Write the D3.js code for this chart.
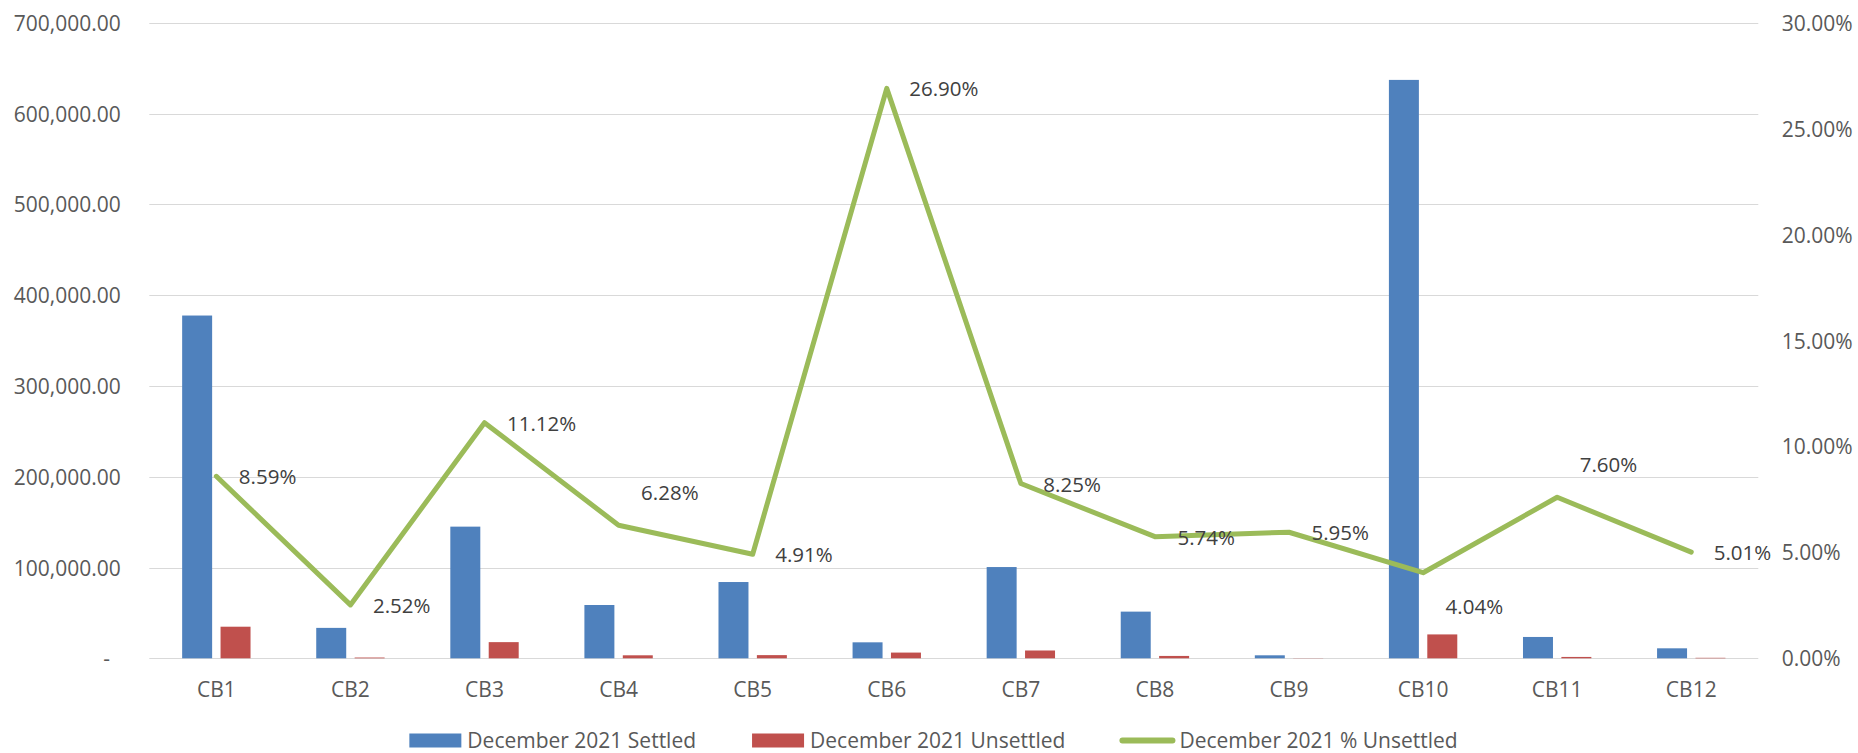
<!DOCTYPE html>
<html>
<head>
<meta charset="utf-8">
<script src="https://cdn.jsdelivr.net/npm/d3@7"></script>
<style>
  html, body { margin: 0; padding: 0; background: #ffffff; }
  svg { display: block; font-family: "Open Sans", "Noto Sans", sans-serif; }
</style>
</head>
<body>
<svg id="chart" width="1858" height="753"></svg>
<script>
// ---- data ----
const categories = ["CB1","CB2","CB3","CB4","CB5","CB6","CB7","CB8","CB9","CB10","CB11","CB12"];
const settled    = [377500, 33500, 145000, 58700, 84000, 17600, 100500, 51400, 3300, 637000, 23500, 11000];
const unsettled  = [34800, 850, 17800, 3300, 3500, 6300, 8600, 2600, 200, 26300, 1500, 550];
const pctUnsettled = [8.59, 2.52, 11.12, 6.28, 4.91, 26.90, 8.25, 5.74, 5.95, 4.04, 7.60, 5.01];
const leftTicks  = [0, 100000, 200000, 300000, 400000, 500000, 600000, 700000];
const rightTicks = [0, 5, 10, 15, 20, 25, 30];
const seriesNames = ["December 2021 Settled", "December 2021 Unsettled", "December 2021 % Unsettled"];

// label placement (style): 0 = right, -1 = above-right, 1 = below-right
const labelPlacement = [0,0,0,-1,0,0,0,0,0,1,-1,0];

// ---- layout ----
const W = 1858, H = 753;
const plot = { left: 149.3, right: 1758.3, top: 22.7, bottom: 658.3 };
const colors = { settled: "#4F81BD", unsettled: "#C0504D", pct: "#9BBB59" };
const svg = d3.select("#chart");

const x0 = d3.scaleBand().domain(categories).range([plot.left, plot.right]).padding(0);
const groupW = x0.bandwidth() * 0.51;
const x1 = d3.scaleBand().domain(["s","u"]).range([0, groupW]).paddingInner(0.219).paddingOuter(0);
const yL = d3.scaleLinear().domain([0, 700000]).range([plot.bottom, plot.top]);
const yR = d3.scaleLinear().domain([0, 30]).range([plot.bottom, plot.top]);

// gridlines
svg.append("g").selectAll("line").data(leftTicks).join("line")
  .attr("x1", plot.left).attr("x2", plot.right)
  .attr("y1", d => Math.round(yL(d)) + 0.5).attr("y2", d => Math.round(yL(d)) + 0.5)
  .attr("stroke", "#d9d9d9").attr("stroke-width", 1);

// left axis labels
const fmtL = d3.format(",.2f");
svg.append("g").selectAll("text").data(leftTicks).join("text")
  .attr("x", d => d === 0 ? 110 : 120.7)
  .attr("y", d => yL(d))
  .attr("text-anchor", "end")
  .attr("dominant-baseline", "central")
  .attr("font-size", 21)
  .attr("fill", "#595959")
  .text(d => d === 0 ? "-" : fmtL(d));

// right axis labels
const fmtR = d => d3.format(".2f")(d) + "%";
svg.append("g").selectAll("text").data(rightTicks).join("text")
  .attr("x", 1781.7)
  .attr("y", d => yR(d))
  .attr("text-anchor", "start")
  .attr("dominant-baseline", "central")
  .attr("font-size", 21)
  .attr("fill", "#595959")
  .text(fmtR);

// bars
const groups = svg.append("g").selectAll("g").data(categories).join("g")
  .attr("transform", d => `translate(${x0(d) + (x0.bandwidth() - groupW) / 2},0)`);
groups.append("rect")
  .attr("x", x1("s")).attr("width", x1.bandwidth())
  .attr("y", (d, i) => yL(settled[i]))
  .attr("height", (d, i) => plot.bottom - yL(settled[i]))
  .attr("fill", colors.settled);
groups.append("rect")
  .attr("x", x1("u")).attr("width", x1.bandwidth())
  .attr("y", (d, i) => yL(unsettled[i]))
  .attr("height", (d, i) => plot.bottom - yL(unsettled[i]))
  .attr("fill", colors.unsettled);

// category labels
svg.append("g").selectAll("text").data(categories).join("text")
  .attr("x", d => x0(d) + x0.bandwidth() / 2)
  .attr("y", 689)
  .attr("text-anchor", "middle")
  .attr("dominant-baseline", "central")
  .attr("font-size", 21)
  .attr("fill", "#595959")
  .text(d => d);

// line
const cx = i => x0(categories[i]) + x0.bandwidth() / 2;
const line = d3.line().x((d, i) => cx(i)).y(d => yR(d));
svg.append("path").datum(pctUnsettled)
  .attr("d", line)
  .attr("fill", "none")
  .attr("stroke", colors.pct)
  .attr("stroke-width", 5)
  .attr("stroke-linejoin", "round")
  .attr("stroke-linecap", "round");

// data labels
svg.append("g").selectAll("text").data(pctUnsettled).join("text")
  .attr("x", (d, i) => cx(i) + 22.5)
  .attr("y", (d, i) => yR(d) + labelPlacement[i] * 33.5)
  .attr("dominant-baseline", "central")
  .attr("font-size", 20.5)
  .attr("fill", "#404040")
  .text(d => d3.format(".2f")(d) + "%");

// legend
const legY = 739.5;
const leg = svg.append("g");
const items = [
  { name: seriesNames[0], type: "rect", color: colors.settled },
  { name: seriesNames[1], type: "rect", color: colors.unsettled },
  { name: seriesNames[2], type: "line", color: colors.pct }
];
const swW = 52, swGap = 6, itemGap = 56;
let xPos = 0;
items.forEach(it => {
  const g = leg.append("g");
  if (it.type === "rect") {
    g.append("rect").attr("x", 0).attr("y", legY - 6).attr("width", swW).attr("height", 14).attr("fill", it.color);
  } else {
    g.append("line").attr("x1", 1).attr("x2", swW - 1).attr("y1", legY + 1).attr("y2", legY + 1)
      .attr("stroke", it.color).attr("stroke-width", 6).attr("stroke-linecap", "round");
  }
  const t = g.append("text").attr("x", swW + swGap).attr("y", legY)
    .attr("dominant-baseline", "central").attr("font-size", 21).attr("fill", "#595959").text(it.name);
  const w = swW + swGap + t.node().getComputedTextLength();
  g.attr("transform", `translate(${xPos},0)`);
  xPos += w + itemGap;
});
const totalW = xPos - itemGap;
leg.attr("transform", `translate(${933.5 - totalW / 2},0)`);
</script>
</body>
</html>
